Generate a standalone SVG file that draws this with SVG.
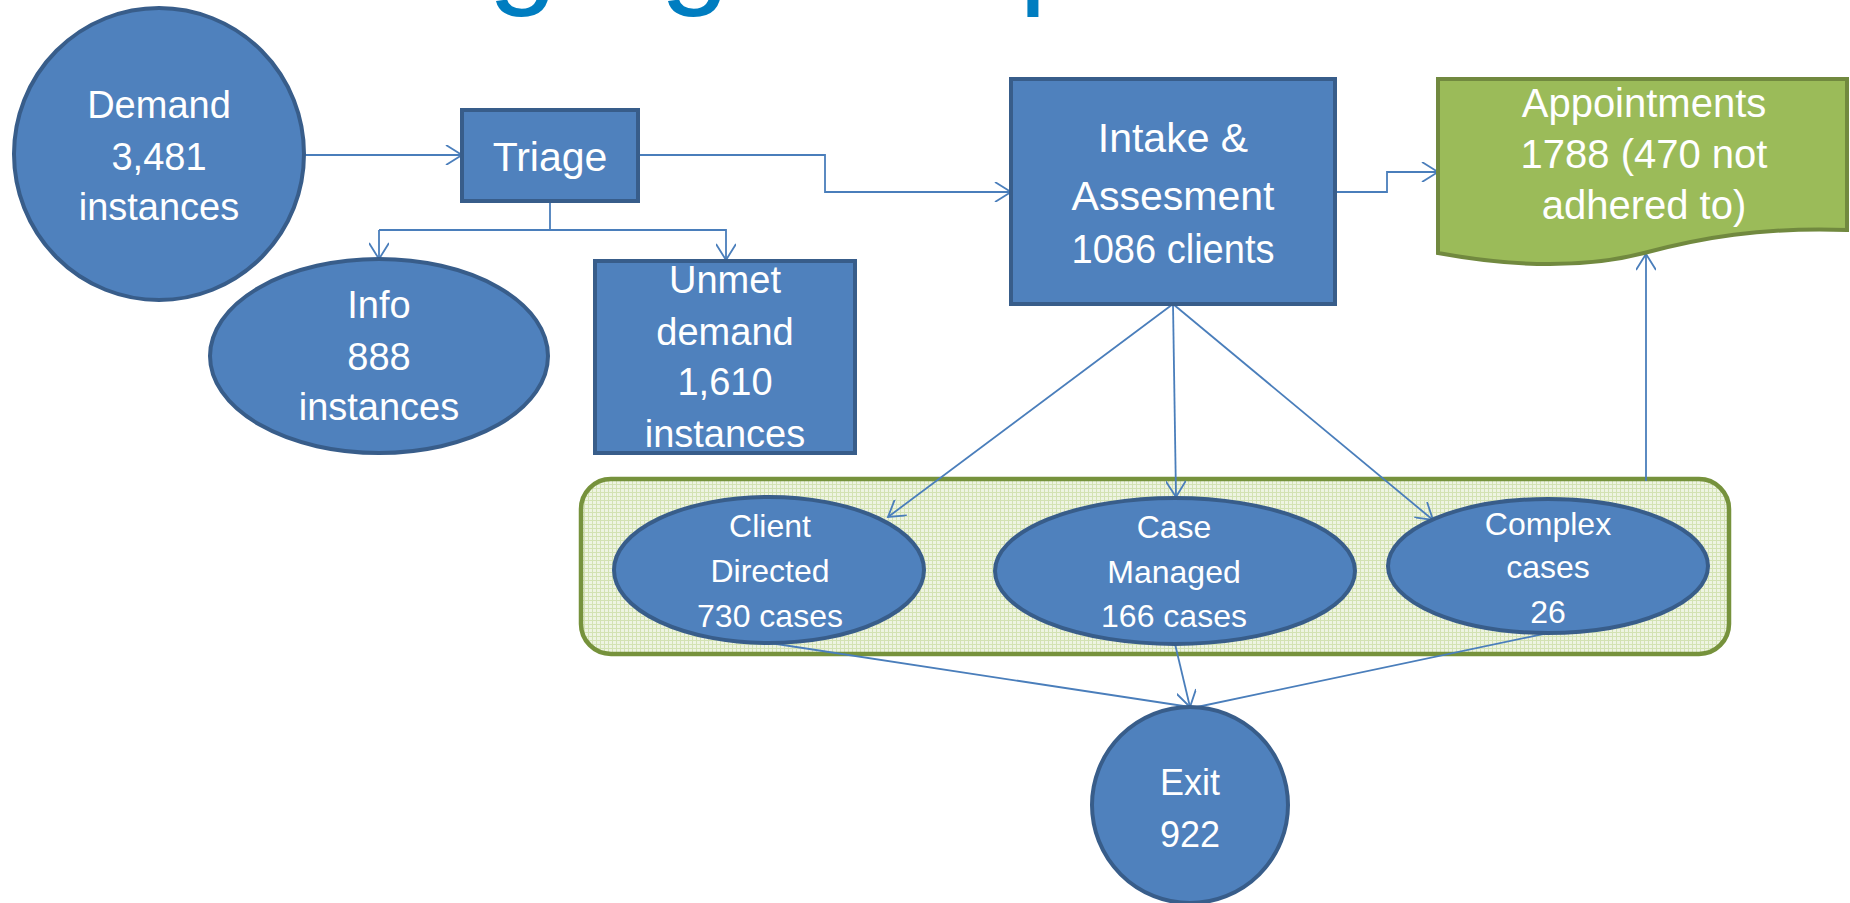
<svg xmlns="http://www.w3.org/2000/svg" width="1850" height="903" viewBox="0 0 1850 903">
  <defs>
    <style>
      .node { fill: #4F81BD; stroke: #385D8A; stroke-width: 4; }
      .doc { fill: #9BBB59; stroke: #71893F; stroke-width: 4; }
      .group-box { fill: url(#grid); stroke: #76923C; stroke-width: 4.5; }
      .lbl { fill: #FFFFFF; font-family: "Liberation Sans", Arial, sans-serif; font-size: 38px; text-anchor: middle; }
      .lbl-l { font-size: 41px; }
      .lbl-s { font-size: 32px; }
      .conn { fill: none; stroke: #4A7EBB; stroke-width: 1.8; }
      .conn-a { marker-end: url(#arrow); }
      .title { fill: #007DC0; font-family: "Liberation Sans", Arial, sans-serif; font-size: 125px; }
    </style>
    <marker id="arrow" viewBox="0 0 20 20" refX="17" refY="10" markerWidth="20" markerHeight="20" markerUnits="userSpaceOnUse" orient="auto">
      <path d="M1,0 L17,10 L1,20" fill="none" stroke="#4A7EBB" stroke-width="1.8"/>
    </marker>
    <pattern id="grid" width="4" height="4" patternUnits="userSpaceOnUse">
      <rect width="4" height="4" fill="#EEF4E2"/>
      <path d="M0,0.5 H4 M0.5,0 V4" stroke="#D3E2B3" stroke-width="1"/>
    </pattern>
  </defs>

  <rect width="1850" height="903" fill="#FFFFFF"/>

  <!-- heading, mostly above the top edge -->
  <g id="title">
    <text class="title" y="-9"><tspan x="488">g</tspan><tspan x="660">g</tspan><tspan x="1019">p</tspan></text>
  </g>

  <!-- service stream container -->
  <g id="services">
    <rect class="group-box" x="581" y="479" width="1148" height="175" rx="30" ry="30"/>
  </g>

  <g id="connectors">
    <path class="conn conn-a" d="M305,155 H462"/>
    <path class="conn conn-a" d="M638,155 H825 V192 H1011"/>
    <path class="conn" d="M550,201 V230"/>
    <path class="conn conn-a" d="M379,230 H726 V260"/>
    <path class="conn conn-a" d="M379,230 V259"/>
    <path class="conn conn-a" d="M1335,192 H1387 V172 H1438"/>
    <path class="conn conn-a" d="M1173,304 L888,517"/>
    <path class="conn conn-a" d="M1173,304 L1176,497"/>
    <path class="conn conn-a" d="M1173,304 L1433,520"/>
    <path class="conn conn-a" d="M1646,481 V254"/>
    <path class="conn" d="M770,643 L1190,707"/>
    <path class="conn conn-a" d="M1175,644 L1190,707"/>
    <path class="conn" d="M1548,633 L1197,707"/>
  </g>

  <g id="demand">
    <ellipse class="node" cx="159" cy="154" rx="145" ry="146"/>
    <text class="lbl" x="159" y="118">Demand</text>
    <text class="lbl" x="159" y="170">3,481</text>
    <text class="lbl" x="159" y="220">instances</text>
  </g>

  <g id="triage">
    <rect class="node" x="462" y="110" width="176" height="91"/>
    <text class="lbl lbl-l" x="550" y="171">Triage</text>
  </g>

  <g id="info">
    <ellipse class="node" cx="379" cy="356" rx="169" ry="97"/>
    <text class="lbl" x="379" y="318">Info</text>
    <text class="lbl" x="379" y="370">888</text>
    <text class="lbl" x="379" y="420">instances</text>
  </g>

  <g id="unmet">
    <rect class="node" x="595" y="261" width="260" height="192"/>
    <text class="lbl" x="725" y="293">Unmet</text>
    <text class="lbl" x="725" y="345">demand</text>
    <text class="lbl" x="725" y="395">1,610</text>
    <text class="lbl" x="725" y="447">instances</text>
  </g>

  <g id="intake">
    <rect class="node" x="1011" y="79" width="324" height="225"/>
    <text class="lbl lbl-l" x="1173" y="152">Intake &amp;</text>
    <text class="lbl lbl-l" x="1173" y="210">Assesment</text>
    <text class="lbl lbl-l" x="1173" y="263" textLength="203" lengthAdjust="spacingAndGlyphs">1086 clients</text>
  </g>

  <g id="appointments">
    <path class="doc" d="M1438,79 H1847 V230 C1760,227 1700,238 1644,253 C1590,267 1520,268 1438,253 Z"/>
    <text class="lbl" x="1644" y="117" style="font-size:40px">Appointments</text>
    <text class="lbl" x="1644" y="168" style="font-size:40px">1788 (470 not</text>
    <text class="lbl" x="1644" y="219" style="font-size:40px">adhered to)</text>
  </g>

  <g id="client-directed">
    <ellipse class="node" cx="769" cy="570" rx="155" ry="73"/>
    <text class="lbl lbl-s" x="770" y="537">Client</text>
    <text class="lbl lbl-s" x="770" y="582">Directed</text>
    <text class="lbl lbl-s" x="770" y="627">730 cases</text>
  </g>

  <g id="case-managed">
    <ellipse class="node" cx="1175" cy="571" rx="180" ry="73"/>
    <text class="lbl lbl-s" x="1174" y="538">Case</text>
    <text class="lbl lbl-s" x="1174" y="583">Managed</text>
    <text class="lbl lbl-s" x="1174" y="627">166 cases</text>
  </g>

  <g id="complex">
    <ellipse class="node" cx="1548" cy="566" rx="160" ry="67"/>
    <text class="lbl lbl-s" x="1548" y="535">Complex</text>
    <text class="lbl lbl-s" x="1548" y="578">cases</text>
    <text class="lbl lbl-s" x="1548" y="623">26</text>
  </g>

  <g id="exit">
    <circle class="node" cx="1190" cy="805" r="98"/>
    <text class="lbl" x="1190" y="795" style="font-size:36px">Exit</text>
    <text class="lbl" x="1190" y="847" style="font-size:36px">922</text>
  </g>
</svg>
